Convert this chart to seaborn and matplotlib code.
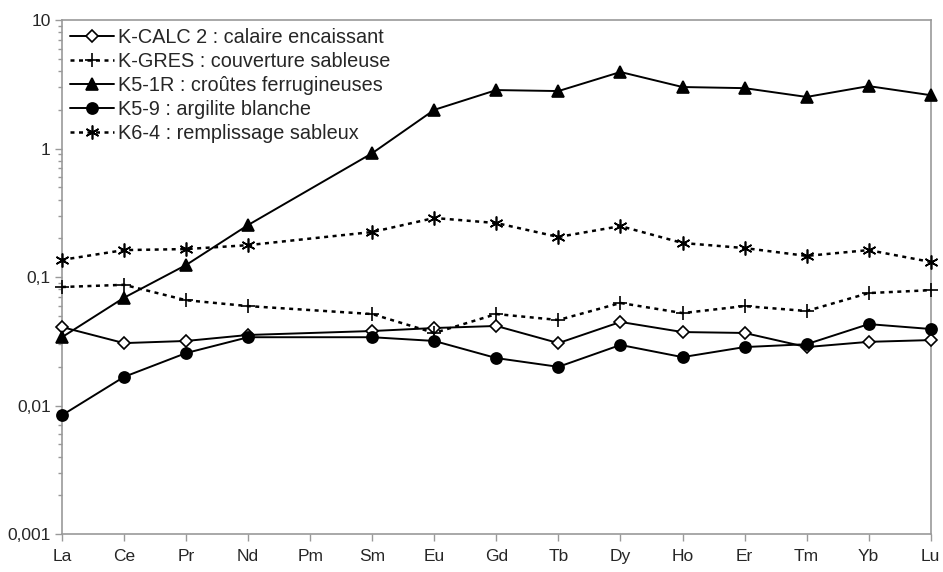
import numpy as np
import pandas as pd
import matplotlib.pyplot as plt
import seaborn as sns
from matplotlib.ticker import FixedLocator, FixedFormatter, LogLocator, NullFormatter

sns.set_style("white")
plt.rcParams["font.family"] = ["Liberation Sans", "DejaVu Sans"]
plt.rcParams["font.size"] = 12

# Terres rares (Pm sans donnée)
elements = ["La", "Ce", "Pr", "Nd", "Pm", "Sm", "Eu", "Gd", "Tb", "Dy", "Ho", "Er", "Tm", "Yb", "Lu"]

k_calc2 = [0.0408, 0.0306, 0.0318, 0.0354, np.nan, 0.038, 0.0401, 0.0416, 0.0306, 0.0447, 0.0373, 0.0367, 0.0285, 0.0313, 0.0323]
k_gres = [0.0836, 0.087, 0.066, 0.0594, np.nan, 0.0515, 0.0367, 0.0515, 0.0463, 0.0628, 0.0524, 0.0594, 0.0544, 0.075, 0.079]
k5_1r = [0.034, 0.069, 0.124, 0.254, np.nan, 0.92, 2.0, 2.85, 2.8, 3.94, 3.01, 2.95, 2.52, 3.06, 2.6]
k5_9 = [0.0084, 0.0167, 0.0256, 0.034, np.nan, 0.034, 0.0318, 0.0234, 0.020, 0.0296, 0.0238, 0.0285, 0.030, 0.043, 0.0394]
k6_4 = [0.136, 0.162, 0.165, 0.177, np.nan, 0.224, 0.288, 0.263, 0.205, 0.249, 0.184, 0.168, 0.146, 0.162, 0.131]

series = [
    ("K-CALC 2 : calaire encaissant", k_calc2, "D", "white", "-", 6.5),
    ("K-GRES : couverture sableuse", k_gres, "+", "black", (0, (1.6, 1.8)), 10),
    ("K5-1R : croûtes ferrugineuses", k5_1r, "^", "black", "-", 8),
    ("K5-9 : argilite blanche", k5_9, "o", "black", "-", 8),
    ("K6-4 : remplissage sableux", k6_4, (6, 2, 0), "black", (0, (1.6, 1.8)), 10),
]

fig = plt.figure(figsize=(9.43, 5.72), dpi=100)
ax = fig.add_axes([0.0657, 0.0664, 0.9213, 0.8986])

for name, vals, mk, fc, ls, ms in series:
    df = pd.DataFrame({"pos": np.arange(len(elements)), "val": vals}).dropna()
    lw = 1.8 if ls != "-" else 1.4
    sns.lineplot(data=df, x="pos", y="val", ax=ax, color="black", lw=lw,
                 linestyle=ls, marker=mk, markersize=ms, markerfacecolor=fc,
                 markeredgecolor="black", markeredgewidth=1.2, label=name,
                 clip_on=False, zorder=3)

ax.set_yscale("log")
ax.set_ylim(0.001, 10)
ax.set_xlim(0, len(elements) - 1)
ax.yaxis.set_major_locator(FixedLocator([0.001, 0.01, 0.1, 1, 10]))
ax.yaxis.set_major_formatter(FixedFormatter(["0,001", "0,01", "0,1", "1", "10"]))
ax.yaxis.set_minor_locator(LogLocator(base=10, subs=np.arange(2, 10)))
ax.yaxis.set_minor_formatter(NullFormatter())
ax.set_xticks(range(len(elements)))
ax.set_xticklabels(elements)
ax.set_xlabel("")
ax.set_ylabel("")

for sp in ax.spines.values():
    sp.set_color("#999999")
    sp.set_linewidth(1.2)
ax.tick_params(axis="both", which="major", direction="out", length=5, color="#999999",
               width=1, left=True, bottom=True, labelsize=12.5, pad=3)
ax.tick_params(axis="x", pad=6)
ax.tick_params(axis="y", which="minor", direction="out", length=3, color="#999999", width=1, left=True)

leg = ax.legend(loc="upper left", frameon=False, handlelength=2.2, handletextpad=0.2,
                labelspacing=0.25, fontsize=14.3, borderaxespad=0.1, borderpad=0.3)

fig.savefig("out.png", dpi=100)
